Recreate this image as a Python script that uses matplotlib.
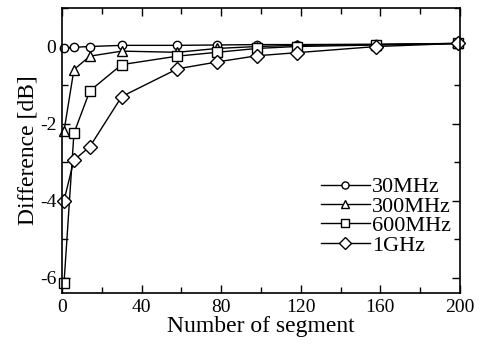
import numpy as np
import matplotlib
matplotlib.use('Agg')
import matplotlib.pyplot as plt
from matplotlib.ticker import MultipleLocator

plt.rcParams['font.family'] = ['Liberation Serif', 'DejaVu Serif']
plt.rcParams['axes.unicode_minus'] = False

# number of segments used for every series
segments = [1, 6, 14, 30, 58, 78, 98, 118, 158, 199]

# difference [dB]
d_30mhz = [-0.05, -0.02, 0.0, 0.03, 0.03, 0.04, 0.05, 0.05, 0.06, 0.08]
d_300mhz = [-2.2, -0.6, -0.25, -0.12, -0.15, -0.05, 0.0, 0.03, 0.05, 0.08]
d_600mhz = [-6.15, -2.25, -1.15, -0.47, -0.25, -0.15, -0.05, 0.0, 0.04, 0.08]
d_1ghz = [-4.0, -2.95, -2.6, -1.3, -0.58, -0.4, -0.24, -0.16, 0.0, 0.08]

labels = ['30MHz', '300MHz', '600MHz', '1GHz']
markers = ['o', '^', 's', 'D']
sizes = [6, 6.5, 6.5, 7.5]

fig = plt.figure(figsize=(4.9, 3.51), dpi=100)
ax = fig.add_axes([62 / 490, 1 - 293 / 351, 398 / 490, 285 / 351])

for y, lab, m, s in zip([d_30mhz, d_300mhz, d_600mhz, d_1ghz], labels, markers, sizes):
    ax.plot(segments, y, color='black', lw=1.0, marker=m, ms=s,
            mfc='white', mec='black', mew=1.0, label=lab, clip_on=False)

ax.set_xlim(0, 200)
ax.set_ylim(-6.4, 1.0)
ax.xaxis.set_major_locator(MultipleLocator(40))
ax.xaxis.set_minor_locator(MultipleLocator(20))
ax.yaxis.set_major_locator(MultipleLocator(2))
ax.yaxis.set_minor_locator(MultipleLocator(1))
ax.tick_params(which='both', direction='in', top=True, right=True, labelsize=14, width=1.0)
ax.tick_params(which='major', length=6, pad=4)
ax.tick_params(which='minor', length=4)
for sp in ax.spines.values():
    sp.set_linewidth(1.2)

ax.set_xlabel('Number of segment', fontsize=17, labelpad=0)
ax.set_ylabel('Difference [dB]', fontsize=17, labelpad=1)

ax.legend(loc='lower right', bbox_to_anchor=(1.0, 0.1), frameon=False, fontsize=16,
          markerscale=0.85, handlelength=2.2, handletextpad=0.1,
          labelspacing=-0.05, borderaxespad=0.0)

fig.savefig('out.png', dpi=100)
